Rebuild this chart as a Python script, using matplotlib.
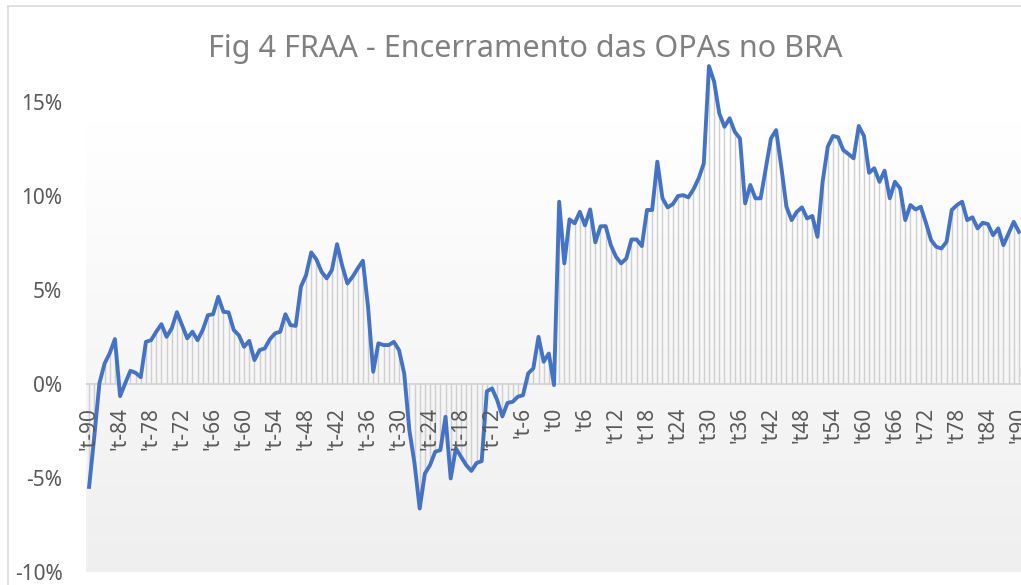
"""Fig 4 FRAA - cumulative abnormal return around OPA closing (BRA)."""

import matplotlib
matplotlib.use("Agg")
import matplotlib.pyplot as plt
import numpy as np
from matplotlib.patches import Rectangle

# event days 't-90 .. 't90
days = list(range(-90, 91))

# cumulative return in %
car_pre = [
    -5.47, -2.80, 0.05, 1.10, 1.65, 2.40, -0.64, 0.05, 0.71, 0.60,  # -90..-81
    0.37, 2.25, 2.34, 2.79, 3.19, 2.52, 2.97, 3.83, 3.14, 2.44,      # -80..-71
    2.79, 2.34, 2.88, 3.67, 3.72, 4.65, 3.85, 3.82, 2.88, 2.60,      # -70..-61
    1.99, 2.30, 1.28, 1.81, 1.90, 2.39, 2.70, 2.79, 3.72, 3.14,      # -60..-51
    3.10, 5.18, 5.80, 7.01, 6.64, 5.98, 5.63, 6.07, 7.45, 6.30,      # -50..-41
    5.36, 5.71, 6.16, 6.57, 4.12, 0.66, 2.17, 2.08, 2.08, 2.25,      # -40..-31
    1.81, 0.57, -2.45, -4.22, -6.62, -4.76, -4.31, -3.60, -3.51, -1.74,  # -30..-21
    -5.02, -3.42, -3.87, -4.31, -4.62, -4.20, -4.10, -0.38, -0.23, -0.85,  # -20..-11
    -1.72, -1.00, -0.94, -0.67, -0.59, 0.57, 0.84, 2.52, 1.19, 1.63,  # -10..-1
    -0.05,                                                           # 0
]
car_post = [
    9.71, 6.43, 8.77, 8.56, 9.17, 8.45, 9.30, 7.55, 8.40, 8.41,      # 1..10
    7.40, 6.78, 6.43, 6.69, 7.70, 7.70, 7.35, 9.27, 9.27, 11.84,     # 11..20
    9.89, 9.41, 9.58, 10.01, 10.06, 9.94, 10.37, 10.95, 11.75, 16.93,  # 21..30
    16.10, 14.41, 13.70, 14.15, 13.43, 13.08, 9.62, 10.60, 9.89, 9.89,  # 31..40
    11.49, 13.08, 13.52, 11.57, 9.44, 8.73, 9.17, 9.41, 8.82, 8.95,  # 41..50
    7.84, 10.77, 12.64, 13.21, 13.14, 12.46, 12.25, 12.02, 13.74, 13.21,  # 51..60
    11.25, 11.49, 10.77, 11.36, 9.89, 10.77, 10.42, 8.73, 9.53, 9.30,  # 61..70
    9.44, 8.59, 7.67, 7.31, 7.22, 7.58, 9.27, 9.53, 9.71, 8.73,      # 71..80
    8.88, 8.29, 8.59, 8.52, 7.93, 8.29, 7.40, 8.02, 8.64, 8.11,      # 81..90
]
car = np.array(car_pre + car_post)

tick_days = list(range(-90, 91, 6))
tick_labels = [f"'t{d}" for d in tick_days]
title = "Fig 4 FRAA - Encerramento das OPAs no BRA"

plt.rcParams["font.family"] = ["Noto Sans", "DejaVu Sans"]

W, H = 1021, 585
fig = plt.figure(figsize=(W / 100, H / 100), dpi=100)

# chart area border (cropped at right and bottom)
fig.patches.append(Rectangle((8 / W, -0.1), 1.2, (H - 6) / H + 0.1,
                             transform=fig.transFigure, fill=False,
                             edgecolor="#d9d9d9", linewidth=1.2))

ax = fig.add_axes([86 / W, 13 / H, 936 / W, 511 / H])
ax.set_xlim(-90.6, 90.6)
ax.set_ylim(-10, 17.2)
ax.patch.set_alpha(0)

# soft grey gradient in the plot area
grad = np.linspace(1.0, 0.0, 200).reshape(-1, 1)
ax.imshow(grad, extent=(-90.6, 91.5, -10, 13.95), aspect="auto",
          cmap=matplotlib.colors.LinearSegmentedColormap.from_list(
              "g", ["#efefef", "#ffffff"]), vmin=0, vmax=1, zorder=0)

ax.vlines(days, 0, car, color="#cfcfcf", linewidth=1.0, zorder=1)
ax.axhline(0, color="#d4d4d4", linewidth=1.3, zorder=1)
ax.plot(days, car, color="#4472c4", linewidth=2.8, zorder=3,
        solid_joinstyle="round")

for d, lbl in zip(tick_days, tick_labels):
    ax.annotate(lbl, (d, 0), xytext=(0, -16.5), textcoords="offset points",
                rotation=90, ha="center", va="top", fontsize=15,
                color="#595959", annotation_clip=False)

ax.set_xticks([])
ax.set_yticks([-10, -5, 0, 5, 10, 15])
ax.set_yticklabels([f"{v}%" for v in [-10, -5, 0, 5, 10, 15]],
                   fontsize=15, color="#595959")
ax.tick_params(axis="y", length=0, pad=17)
for s in ax.spines.values():
    s.set_visible(False)

fig.text(525 / W, 1 - 49 / H, title, ha="center", va="center",
         fontsize=22, color="#808080")

fig.savefig("out.png", dpi=100)
